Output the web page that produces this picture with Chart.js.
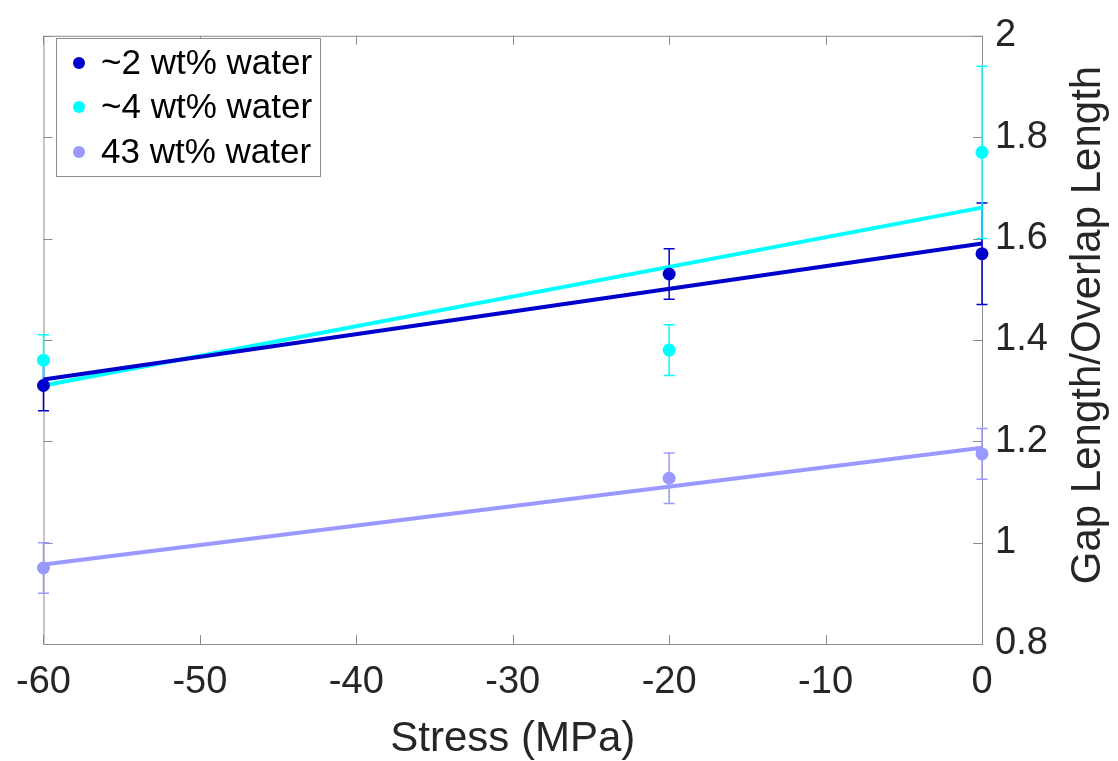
<!DOCTYPE html>
<html>
<head>
<meta charset="utf-8">
<script src="https://cdn.jsdelivr.net/npm/chart.js@4.4.1/dist/chart.umd.min.js"></script>
<style>
  html, body { margin: 0; padding: 0; background: #fff; }
  #wrap { width: 1118px; height: 761px; }
</style>
</head>
<body>
<div id="wrap"><canvas id="myChart" width="1118" height="761"></canvas></div>
<script>
var stress = [-60, -20, 0];

var water2 = [1.31, 1.53, 1.57];
var water2Err = [0.05, 0.05, 0.10];
var water4 = [1.36, 1.38, 1.77];
var water4Err = [0.05, 0.05, 0.17];
var water43 = [0.95, 1.127, 1.175];
var water43Err = [0.05, 0.05, 0.05];

// straight-line fits, end points at -60 and 0 MPa
var fitStress = [-60, 0];
var fit2 = [1.322, 1.59];
var fit4 = [1.31, 1.661];
var fit43 = [0.957, 1.187];

var labels = ["~2 wt% water", "~4 wt% water", "43 wt% water"];
var colors = ["#0000cc", "#00ffff", "#9999ff"];
var xTicks = [-60, -50, -40, -30, -20, -10, 0];
var yTicks = [0.8, 1, 1.2, 1.4, 1.6, 1.8, 2];

var FONT = "'Liberation Sans', Arial, sans-serif";
var AXIS_COLOR = "#8c8c8c";
var TEXT_COLOR = "#262626";

function pts(xs, ys) {
  var out = [];
  for (var i = 0; i < xs.length; i++) out.push({ x: xs[i], y: ys[i] });
  return out;
}

function pointSet(i, ys, err) {
  return {
    label: labels[i],
    data: pts(stress, ys),
    err: err,
    showLine: false,
    pointRadius: 6.5,
    pointHoverRadius: 6.5,
    pointBorderWidth: 0,
    backgroundColor: colors[i],
    borderColor: colors[i],
    clip: false
  };
}

function fitSet(i, ys) {
  return {
    label: labels[i] + " fit",
    data: pts(fitStress, ys),
    showLine: true,
    pointRadius: 0,
    borderWidth: 4,
    borderColor: colors[i],
    backgroundColor: colors[i],
    clip: false
  };
}

// box round the plot with inward tick marks on all four sides
var boxPlugin = {
  id: "boxPlugin",
  beforeDatasetsDraw: function (chart) {
    var ctx = chart.ctx, a = chart.chartArea;
    var xs = chart.scales.x, ys = chart.scales.y;
    var tl = 9;
    ctx.save();
    ctx.strokeStyle = AXIS_COLOR;
    ctx.lineWidth = 1;
    ctx.strokeRect(a.left + 0.5, a.top + 0.5, a.right - a.left, a.bottom - a.top);
    ctx.beginPath();
    xTicks.forEach(function (v) {
      var px = Math.round(xs.getPixelForValue(v)) + 0.5;
      ctx.moveTo(px, a.bottom); ctx.lineTo(px, a.bottom - tl);
      ctx.moveTo(px, a.top); ctx.lineTo(px, a.top + tl);
    });
    yTicks.forEach(function (v) {
      var py = Math.round(ys.getPixelForValue(v)) + 0.5;
      ctx.moveTo(a.left, py); ctx.lineTo(a.left + tl, py);
      ctx.moveTo(a.right, py); ctx.lineTo(a.right - tl, py);
    });
    ctx.stroke();
    ctx.restore();
  }
};

// vertical error bars with caps
var errorBarPlugin = {
  id: "errorBarPlugin",
  beforeDatasetsDraw: function (chart) {
    var ctx = chart.ctx;
    var xs = chart.scales.x, ys = chart.scales.y;
    var cap = 5.5;
    ctx.save();
    ctx.lineWidth = 1.5;
    chart.data.datasets.forEach(function (ds) {
      if (!ds.err) return;
      ctx.strokeStyle = ds.borderColor;
      ds.data.forEach(function (p, j) {
        var px = xs.getPixelForValue(p.x);
        var top = ys.getPixelForValue(p.y + ds.err[j]);
        var bot = ys.getPixelForValue(p.y - ds.err[j]);
        ctx.beginPath();
        ctx.moveTo(px, top); ctx.lineTo(px, bot);
        ctx.moveTo(px - cap, top); ctx.lineTo(px + cap, top);
        ctx.moveTo(px - cap, bot); ctx.lineTo(px + cap, bot);
        ctx.stroke();
      });
    });
    ctx.restore();
  }
};

// legend box in the top-left corner and the right-hand axis title
var legendPlugin = {
  id: "legendPlugin",
  afterDraw: function (chart) {
    var ctx = chart.ctx;
    ctx.save();
    ctx.fillStyle = "#fff";
    ctx.fillRect(56, 38, 264, 138);
    ctx.strokeStyle = AXIS_COLOR;
    ctx.lineWidth = 1;
    ctx.strokeRect(56.5, 38.5, 264, 138);
    ctx.font = "35px " + FONT;
    ctx.textBaseline = "middle";
    ctx.textAlign = "left";
    var rows = [63, 107, 152];
    for (var i = 0; i < labels.length; i++) {
      ctx.fillStyle = colors[i];
      ctx.beginPath();
      ctx.arc(79, rows[i], 6, 0, Math.PI * 2);
      ctx.fill();
      ctx.fillStyle = "#000";
      ctx.fillText(labels[i], 101, rows[i] + 1);
    }

    ctx.translate(1088, 325);
    ctx.rotate(-Math.PI / 2);
    ctx.textAlign = "center";
    ctx.fillStyle = TEXT_COLOR;
    ctx.font = "42px " + FONT;
    ctx.fillText("Gap Length/Overlap Length", 0, 0);
    ctx.restore();
  }
};

var ctx = document.getElementById("myChart").getContext("2d");
var chart = new Chart(ctx, {
  type: "scatter",
  data: {
    datasets: [
      pointSet(0, water2, water2Err),
      pointSet(1, water4, water4Err),
      pointSet(2, water43, water43Err),
      fitSet(0, fit2),
      fitSet(1, fit4),
      fitSet(2, fit43)
    ]
  },
  options: {
    responsive: false,
    devicePixelRatio: 1,
    animation: false,
    layout: {
      autoPadding: false,
      padding: { left: 37, top: 21, right: 0, bottom: 0 }
    },
    plugins: {
      legend: { display: false },
      tooltip: { enabled: false }
    },
    scales: {
      x: {
        type: "linear",
        position: "bottom",
        min: -60,
        max: 0,
        grid: { display: false, drawTicks: false },
        border: { display: false },
        afterBuildTicks: function (s) {
          s.ticks = xTicks.map(function (v) { return { value: v }; });
        },
        afterFit: function (s) { s.height = 117; },
        ticks: {
          padding: 16,
          color: TEXT_COLOR,
          font: { family: FONT, size: 38 }
        },
        title: {
          display: true,
          text: "Stress (MPa)",
          color: TEXT_COLOR,
          font: { family: FONT, size: 42 },
          padding: { top: 0, bottom: -4 }
        }
      },
      y: {
        type: "linear",
        position: "right",
        min: 0.8,
        max: 2,
        grid: { display: false, drawTicks: false },
        border: { display: false },
        afterBuildTicks: function (s) {
          s.ticks = yTicks.map(function (v) { return { value: v }; });
        },
        afterFit: function (s) { s.width = 136; },
        ticks: {
          padding: 13,
          color: TEXT_COLOR,
          font: { family: FONT, size: 38 },
          callback: function (v) { return String(+v.toFixed(1)); }
        }
      }
    }
  },
  plugins: [boxPlugin, errorBarPlugin, legendPlugin]
});
</script>
</body>
</html>
